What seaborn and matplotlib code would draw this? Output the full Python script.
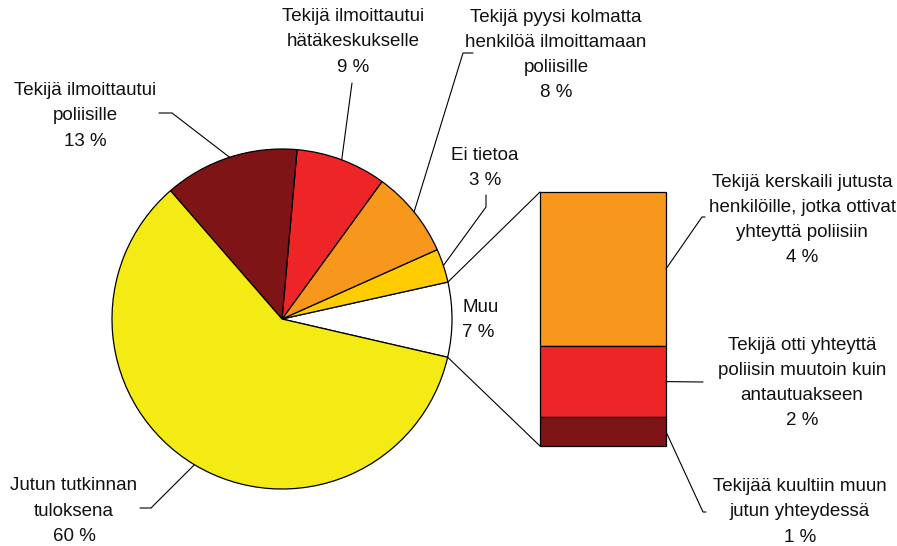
import matplotlib.pyplot as plt
import numpy as np
import seaborn as sns
from matplotlib.lines import Line2D
from matplotlib.patches import ConnectionPatch

# pie data, counter-clockwise starting from "Muu"
pie_labels = ['Muu', 'Ei tietoa', 'Tekijä pyysi kolmatta\nhenkilöä ilmoittamaan\npoliisille',
              'Tekijä ilmoittautui\nhätäkeskukselle', 'Tekijä ilmoittautui\npoliisille',
              'Jutun tutkinnan\ntuloksena']
pie_values = [7.1, 3.2, 8.3, 8.6, 12.8, 60.0]
pie_pct = ['7 %', '3 %', '8 %', '9 %', '13 %', '60 %']
pie_colors = ['#FFFFFF', '#FFCC00', '#F7981D', '#EE2527', '#7F1416', '#F5EB14']

# breakdown of "Muu", top to bottom
bar_labels = ['Tekijä kerskaili jutusta\nhenkilöille, jotka ottivat\nyhteyttä poliisiin',
              'Tekijä otti yhteyttä\npoliisin muutoin kuin\nantautuakseen',
              'Tekijää kuultiin muun\njutun yhteydessä']
bar_values = [4.3, 2.0, 0.8]
bar_pct = ['4 %', '2 %', '1 %']
bar_colors = ['#F7981D', '#EE2527', '#7F1416']

sns.set_style('white')
plt.rcParams['font.family'] = ['Liberation Sans', 'DejaVu Sans']
plt.rcParams['font.size'] = 13.5

W, H = 897, 546
fig = plt.figure(figsize=(W / 100, H / 100), dpi=100)


def fx(px):
    return px / W


def fy(py):
    return 1 - py / H


# pie axes: centre (282, 319), radius 170 px
cx, cy, r = 282, 319, 170
ax_pie = fig.add_axes([fx(cx - r), fy(cy + r), 2 * r / W, 2 * r / H])
start = -13
wedges, _ = ax_pie.pie(pie_values, colors=pie_colors, startangle=start, counterclock=True,
                       radius=1, wedgeprops=dict(edgecolor='black', linewidth=0.9))
ax_pie.set_xlim(-1, 1)
ax_pie.set_ylim(-1, 1)
ax_pie.axis('off')

# bar axes: x 540-666, y 192-446 px
bx0, bx1, by0, by1 = 540, 666, 192, 446
ax_bar = fig.add_axes([fx(bx0), fy(by1), (bx1 - bx0) / W, (by1 - by0) / H])
total = sum(bar_values)
bottom = total
for val, col in zip(bar_values, bar_colors):
    bottom -= val
    ax_bar.bar(0, val, bottom=bottom, width=1, color=col, edgecolor='black',
               linewidth=0.9, clip_on=False)
ax_bar.set_xlim(-0.5, 0.5)
ax_bar.set_ylim(0, total)
ax_bar.axis('off')

# lines joining the "Muu" slice to the bar
muu = wedges[0]
for ang, yb in [(muu.theta2, total), (muu.theta1, 0)]:
    con = ConnectionPatch(xyA=(np.cos(np.radians(ang)), np.sin(np.radians(ang))), coordsA=ax_pie.transData,
                          xyB=(-0.5, yb), coordsB=ax_bar.transData, color='black', linewidth=0.8)
    fig.add_artist(con)


def to_fig(ax, x, y):
    disp = ax.transData.transform((x, y))
    return fig.transFigure.inverted().transform(disp)


def leader(points_px, ax, x, y):
    xs = [fx(p[0]) for p in points_px]
    ys = [fy(p[1]) for p in points_px]
    ex, ey = to_fig(ax, x, y)
    fig.add_artist(Line2D(xs + [ex], ys + [ey], color='black', linewidth=0.8,
                          transform=fig.transFigure))


# label positions (px) and leader start points
pie_text_pos = [(462, 320), (485, 168), (556, 55), (353, 42), (85, 116), (74, 511)]
pie_leaders = [None, [(486, 195), (486, 207)], [(473, 53), (463, 53)], [(352, 83)],
               [(159, 113), (172, 113)], [(140, 508), (151, 508)]]

for i, w in enumerate(wedges):
    txt = pie_labels[i] + '\n' + pie_pct[i]
    tx, ty = pie_text_pos[i]
    ha = 'left' if i == 0 else 'center'
    fig.text(fx(tx), fy(ty), txt, ha=ha, va='center', linespacing=1.63, color='#111111')
    if pie_leaders[i] is not None:
        mid = np.radians((w.theta1 + w.theta2) / 2)
        leader(pie_leaders[i], ax_pie, np.cos(mid), np.sin(mid))

bar_text_pos = [(802, 220), (802, 383), (800, 512)]
bar_leaders = [[(705, 217), (702, 217)], [(703, 382)], [(706, 512), (703, 512)]]
top = total
for i, val in enumerate(bar_values):
    mid = top - val / 2
    top -= val
    tx, ty = bar_text_pos[i]
    fig.text(fx(tx), fy(ty), bar_labels[i] + '\n' + bar_pct[i], ha='center', va='center',
             linespacing=1.63, color='#111111')
    leader(bar_leaders[i], ax_bar, 0.5, mid)

fig.savefig('out.png', dpi=100, facecolor='white')
